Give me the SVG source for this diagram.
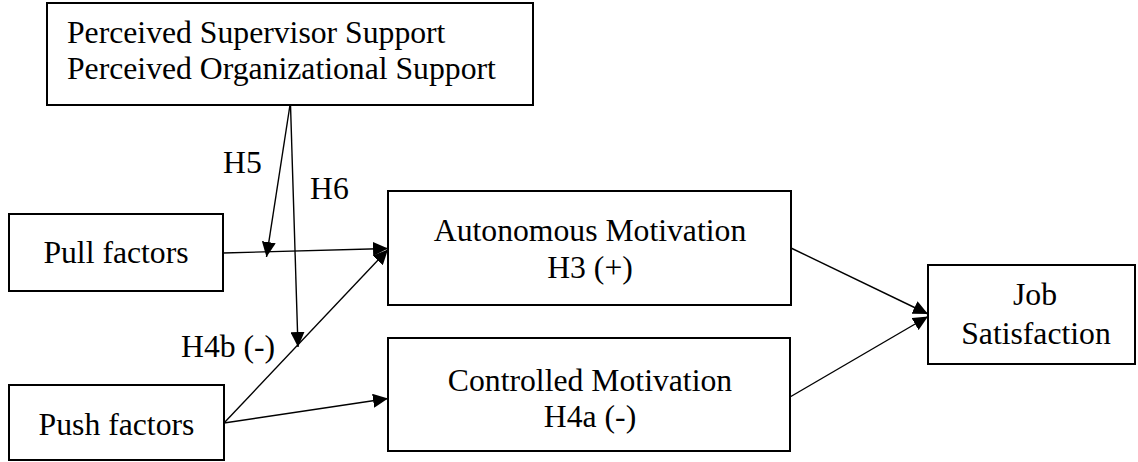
<svg xmlns="http://www.w3.org/2000/svg" width="1138" height="462" viewBox="0 0 1138 462">
<style>
.box{fill:#fff;stroke:#000;stroke-width:2}
.t{font-family:'Liberation Serif','Tinos','Times New Roman','DejaVu Serif',serif;font-size:31.7px;fill:#000}
.c{text-anchor:middle}
.ln{stroke:#000;stroke-width:1.4;fill:none}
</style>
<defs>
<marker id="ah" markerUnits="userSpaceOnUse" markerWidth="16" markerHeight="14" refX="15" refY="7" orient="auto">
<path d="M0,0 L15,7 L0,14 z" fill="#000"/>
</marker>
</defs>
<g id="support">
<rect class="box" x="47" y="3" width="486" height="102"/>
<text class="t" font-family="Liberation Serif, serif" x="67" y="43">Perceived Supervisor Support</text>
<text class="t" font-family="Liberation Serif, serif" x="67" y="79">Perceived Organizational Support</text>
</g>
<g id="pull">
<rect class="box" x="9" y="214" width="214" height="77"/>
<text class="t c" x="116" y="263">Pull factors</text>
</g>
<g id="push">
<rect class="box" x="9" y="385" width="215" height="75"/>
<text class="t c" x="116.5" y="435">Push factors</text>
</g>
<g id="autonomous">
<rect class="box" x="388" y="191" width="403" height="114"/>
<text class="t c" x="590" y="241">Autonomous Motivation</text>
<text class="t c" x="590" y="278">H3 (+)</text>
</g>
<g id="controlled">
<rect class="box" x="388" y="338" width="402" height="113"/>
<text class="t c" x="590" y="391">Controlled Motivation</text>
<text class="t c" x="590" y="427">H4a (-)</text>
</g>
<g id="job">
<rect class="box" x="928" y="265" width="207" height="99"/>
<text class="t c" x="1035" y="305">Job</text>
<text class="t c" x="1036" y="344">Satisfaction</text>
</g>
<g id="connectors">
<line class="ln" x1="290" y1="105" x2="266.5" y2="257" marker-end="url(#ah)"/>
<line class="ln" x1="290.5" y1="105" x2="298" y2="347" marker-end="url(#ah)"/>
<line class="ln" x1="223" y1="253" x2="388" y2="248.5" marker-end="url(#ah)"/>
<line class="ln" x1="224" y1="423" x2="388" y2="249.5" marker-end="url(#ah)"/>
<line class="ln" x1="224" y1="423" x2="388" y2="398.5" marker-end="url(#ah)"/>
<line class="ln" x1="791" y1="248" x2="928" y2="314" marker-end="url(#ah)"/>
<line class="ln" x1="790" y1="397" x2="928" y2="316.5" marker-end="url(#ah)"/>
</g>
<g id="labels">
<text class="t" x="223" y="173">H5</text>
<text class="t" x="310" y="199">H6</text>
<text class="t" x="181" y="357">H4b (-)</text>
</g>
</svg>
